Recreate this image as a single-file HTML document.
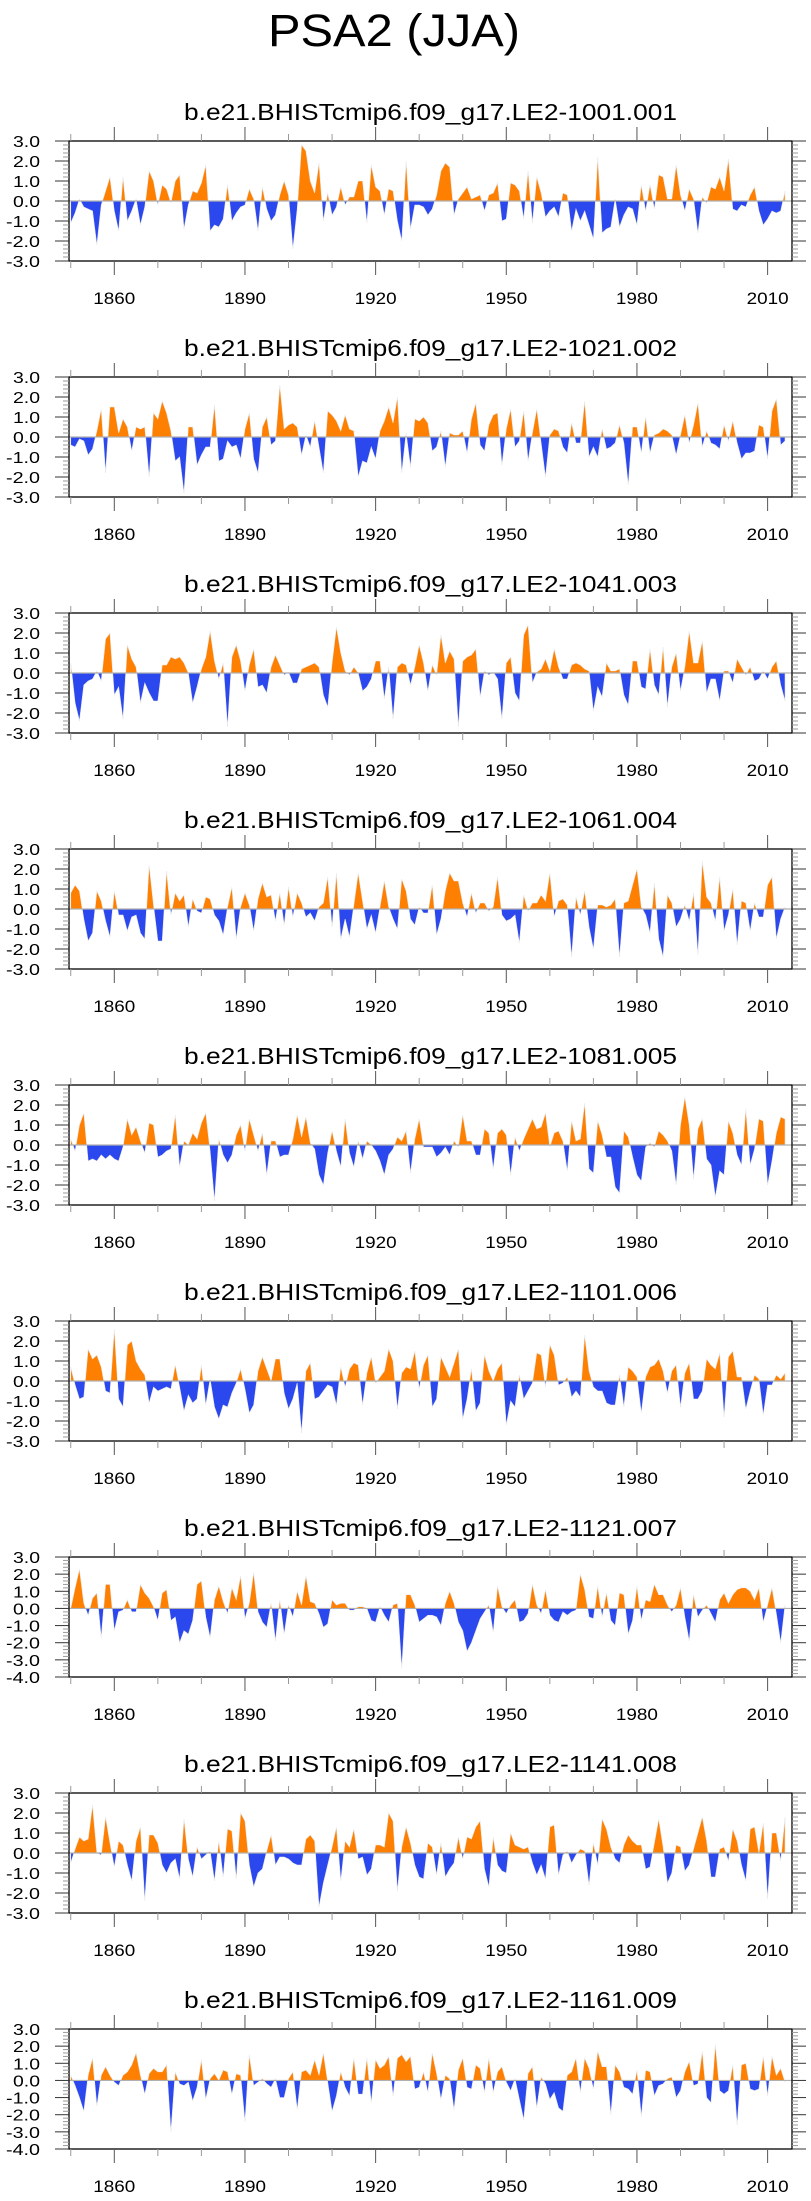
<!DOCTYPE html>
<html><head><meta charset="utf-8"><title>PSA2 (JJA)</title>
<style>html,body{margin:0;padding:0;background:#fff;}svg{display:block;font-family:"Liberation Sans",sans-serif;}</style>
</head><body>
<svg id="chart" width="811" height="2201" viewBox="0 0 811 2201" xmlns="http://www.w3.org/2000/svg">
<text x="394" y="46" font-size="45" text-anchor="middle" textLength="252" lengthAdjust="spacingAndGlyphs">PSA2 (JJA)</text>
</svg>
<script>
const startYear = 1850;
const members = ["b.e21.BHISTcmip6.f09_g17.LE2-1001.001","b.e21.BHISTcmip6.f09_g17.LE2-1021.002","b.e21.BHISTcmip6.f09_g17.LE2-1041.003","b.e21.BHISTcmip6.f09_g17.LE2-1061.004","b.e21.BHISTcmip6.f09_g17.LE2-1081.005","b.e21.BHISTcmip6.f09_g17.LE2-1101.006","b.e21.BHISTcmip6.f09_g17.LE2-1121.007","b.e21.BHISTcmip6.f09_g17.LE2-1141.008","b.e21.BHISTcmip6.f09_g17.LE2-1161.009"];
const yMins = [-3,-3,-3,-3,-3,-3,-4,-3,-4];
const yMaxs = [3,3,3,3,3,3,3,3,3];
const xTickYears = [1860,1890,1920,1950,1980,2010];
const s1 = [-1.1,-0.6,0.1,-0.3,-0.4,-0.5,-2.2,-0.2,0.5,1.2,-0.5,-1.5,1.2,-1.0,-0.5,0.1,-1.2,-0.3,1.5,1.0,-0.2,0.8,0.6,-0.1,1.0,1.3,-1.4,-0.2,0.5,0.4,0.9,1.8,-1.5,-1.2,-1.3,-0.9,0.8,-1.0,-0.6,-0.3,-0.2,0.6,0.1,-1.5,0.7,-0.4,-1.0,-0.7,0.3,1.0,0.3,-2.4,-0.4,2.8,2.5,1.0,0.4,1.9,-1.0,0.4,-0.7,-0.3,0.7,-0.2,0.2,0.2,1.0,1.0,-1.1,1.8,0.7,0.5,-0.7,0.6,0.5,-1.0,-2.0,2.0,-1.4,-0.2,-0.2,-0.3,-0.7,-0.4,0.3,1.5,1.9,1.7,-0.7,0.1,0.4,0.7,0.1,0.2,0.3,-0.5,0.3,0.4,0.9,-1.0,-0.9,0.9,0.8,0.5,-0.9,1.5,-1.1,1.2,0.4,-0.8,-0.5,-0.3,-0.8,0.4,0.3,-1.5,-0.4,-1.0,-0.5,-1.2,-1.9,2.2,-1.6,-1.4,-1.3,0.1,-1.3,-0.7,-0.3,-0.4,-1.2,0.8,-0.5,0.8,-0.4,1.3,1.2,0.1,0.1,1.8,0.3,-0.5,0.6,0.1,-1.6,0.2,-0.1,0.7,0.6,1.2,0.5,2.1,-0.4,-0.5,-0.2,-0.3,0.3,0.7,-0.5,-1.2,-0.9,-0.5,-0.6,-0.5,0.5];
const s2 = [-0.4,-0.5,-0.1,-0.2,-0.9,-0.6,0.3,1.4,-1.8,1.5,1.5,0.2,0.9,0.5,-0.7,0.5,0.4,0.5,-2.0,1.2,0.9,1.8,1.2,0.3,-1.2,-1.0,-2.8,0.5,0.5,-1.4,-0.9,-0.5,-0.5,1.6,-1.2,-1.1,-0.2,-0.5,-0.4,-1.1,0.4,1.2,-1.1,-1.8,0.5,1.0,-0.4,-0.2,2.6,0.4,0.6,0.7,0.5,-0.9,0.1,-0.5,0.8,-0.5,-1.8,1.3,1.1,0.8,0.3,1.1,0.4,0.3,-2.0,-1.2,-1.3,-0.5,-1.1,0.3,0.8,1.5,0.7,2.0,-1.8,0.2,-1.5,0.9,0.8,1.0,0.7,-0.7,-0.5,0.3,-1.5,0.2,0.1,0.1,0.3,-0.8,0.9,1.7,-0.4,-0.7,0.6,1.1,1.2,-1.4,0.4,1.4,-0.5,-0.2,1.3,-1.2,0.2,1.4,-0.3,-2.0,0.1,0.4,0.3,-0.5,-0.8,0.7,-0.3,-0.3,1.8,-1.0,-0.5,-1.0,0.4,-0.6,-0.5,-0.3,0.6,-0.3,-2.4,0.5,0.5,-0.8,1.0,-0.8,0.1,0.2,0.4,0.3,0.1,-0.9,0.1,1.1,-0.3,0.6,1.7,-0.5,0.3,-0.3,-0.4,-0.6,0.6,-0.2,0.8,-0.3,-1.1,-0.8,-0.8,-0.7,0.6,0.5,-1.1,1.3,1.9,-0.4,-0.2];
const s3 = [0.5,-1.5,-2.4,-0.6,-0.4,-0.3,0.1,-0.4,1.7,2.0,-1.1,-0.7,-2.3,1.4,0.7,0.3,-1.5,-0.5,-1.0,-1.4,-1.4,0.4,0.4,0.8,0.7,0.8,0.5,0.0,-1.5,-0.7,0.2,0.8,2.1,0.6,-0.3,0.5,-2.7,0.8,1.4,0.6,-0.9,0.4,1.2,-0.7,-0.6,-1.0,0.3,0.9,0.4,-0.1,0.05,-0.5,-0.5,0.2,0.3,0.4,0.5,0.3,-1.1,-1.7,0.5,2.3,1.0,0.1,-0.1,0.3,0.0,-0.9,-0.7,-0.3,0.6,0.6,-1.3,0.3,-2.3,0.3,0.5,0.4,-0.6,0.3,1.4,0.5,-0.9,0.4,-0.1,1.9,0.5,1.1,0.7,-2.7,0.6,0.8,0.9,1.2,-1.2,0.1,-0.1,0.05,-0.3,-2.3,0.5,0.8,-1.0,-1.4,1.9,2.4,-0.5,0.05,0.2,0.7,0.1,1.2,0.3,-0.3,-0.3,0.4,0.5,0.4,0.2,0.1,-1.9,-0.7,-1.2,0.5,0.1,0.1,0.2,-1.1,-1.6,0.6,0.6,-0.7,-0.8,1.2,-0.6,-1.1,1.3,-1.7,0.3,1.0,-0.9,0.3,2.1,0.5,0.5,1.6,-1.0,-0.3,-0.3,-1.4,0.1,0.1,-0.5,0.7,0.3,-0.1,0.3,-0.4,-0.3,0.1,-0.3,0.3,0.6,-0.6,-1.4];
const s4 = [0.8,1.2,0.9,-0.5,-1.6,-1.2,0.9,0.4,-0.6,-1.4,0.9,-0.3,-0.3,-1.1,-0.4,-0.3,-1.2,-1.5,2.2,0.2,-1.6,-1.6,1.9,-0.3,0.8,0.4,0.7,-0.9,0.5,-0.1,-0.2,0.6,0.5,-0.3,-0.6,-1.3,0.1,1.1,-1.5,0.1,0.8,0.2,-1.1,0.5,1.3,0.6,0.7,-0.6,0.8,-0.8,1.1,-0.4,0.8,0.3,-0.4,-0.2,-0.6,0.1,0.3,1.6,-0.9,1.8,-1.5,-0.5,-1.4,0.2,1.8,0.4,-1.0,-0.3,-1.2,0.1,1.4,0.1,-0.5,-1.0,1.5,0.9,-0.5,-0.8,0.1,-0.2,-0.2,1.2,-1.3,-0.5,0.9,1.8,1.4,1.4,0.3,-0.4,0.8,-0.2,0.3,0.3,-0.1,0.1,1.6,-0.3,-0.6,-0.5,-0.3,-1.7,0.7,-0.1,0.3,0.3,0.7,0.4,1.8,-0.4,0.4,0.5,0.2,-2.4,0.6,-0.3,0.9,-0.9,-2.0,0.2,0.2,0.1,0.2,0.5,-2.4,0.3,0.4,1.2,2.0,0.1,-0.3,-1.2,1.3,-1.5,-2.4,0.7,0.3,-0.9,-0.5,0.2,-0.6,0.8,-2.3,2.4,0.6,0.3,-0.6,1.6,-1.1,-0.3,1.0,-1.8,0.4,0.3,-1.1,0.3,-0.4,-0.4,1.2,1.6,-1.5,-0.5,0.1];
const s5 = [0.3,-0.3,1.0,1.6,-0.8,-0.7,-0.8,-0.5,-0.7,-0.5,-0.7,-0.8,-0.1,1.3,0.5,0.9,0.2,-0.4,1.1,1.0,-0.6,-0.5,-0.3,-0.2,1.5,-1.1,0.2,0.0,0.6,0.3,1.1,1.6,-0.3,-2.8,0.3,-0.5,-0.9,-0.5,0.5,1.0,-0.3,1.3,0.5,-0.3,0.6,-1.5,0.2,0.2,-0.6,-0.5,-0.5,0.3,1.5,0.4,1.4,0.1,-0.2,-1.5,-2.0,-0.4,0.7,-0.3,-1.1,1.3,-0.4,-1.1,0.2,-0.7,0.2,0.0,-0.3,-0.8,-1.5,-0.5,-0.2,0.4,0.2,0.7,-1.4,0.3,1.3,-0.1,-0.1,-0.1,-0.6,-0.4,-0.1,-0.5,0.2,-0.1,1.5,0.2,0.2,-0.5,-0.5,0.8,0.6,-1.2,0.6,0.8,0.5,-1.5,0.4,-0.3,0.3,0.8,1.3,0.8,0.9,1.6,-0.1,0.6,0.7,0.2,-1.3,1.2,0.2,0.3,2.1,-1.2,-1.4,1.2,0.5,-0.6,-0.6,-2.1,-2.4,0.7,0.4,-0.6,-1.5,-1.8,-0.1,0.1,-0.1,0.7,0.5,0.2,-0.3,-2.0,1.0,2.4,1.0,-1.7,0.8,1.3,-0.7,-1.0,-2.6,-1.3,-1.5,1.2,0.6,-0.5,-1.0,1.8,-1.0,-0.2,1.3,1.2,-2.0,-0.8,0.6,1.4,1.3];
const s6 = [0.7,-0.2,-0.9,-0.8,1.6,1.1,1.3,0.7,-0.5,-0.6,2.6,-0.9,-1.3,1.8,2.0,1.0,0.6,0.3,-1.1,-0.3,-0.5,-0.4,-0.3,-0.4,0.8,-0.3,-1.5,-0.7,-1.1,-0.9,0.8,-1.2,0.1,-1.3,-1.9,-1.2,-1.3,-0.6,-0.1,0.6,-0.4,-1.6,-1.2,0.5,1.2,0.6,0.0,1.1,1.1,-0.6,-1.4,-0.9,-0.1,-2.6,0.5,0.9,-0.9,-0.8,-0.5,-0.2,-0.3,-1.2,0.7,-0.3,0.6,0.9,0.8,-1.2,0.4,1.2,-0.1,0.2,0.5,1.6,1.0,-1.4,0.4,0.7,0.6,1.5,-0.4,0.8,1.3,-1.3,-0.9,1.2,0.7,0.2,0.9,1.6,-1.9,-0.9,0.6,-1.5,-1.1,1.3,0.5,0.0,0.6,0.9,-2.2,-1.0,-1.3,0.3,-0.9,-0.5,-0.1,1.4,1.3,-0.3,1.8,1.3,-0.2,-0.1,0.2,-0.8,-0.5,-0.8,2.3,0.5,-0.3,-0.5,-0.5,-1.1,-1.2,-1.2,0.3,-1.3,0.7,0.5,0.2,-1.6,0.2,0.7,0.8,1.1,0.5,-0.6,0.5,0.8,-1.3,0.4,0.9,-0.9,-0.9,-0.5,1.1,0.8,0.6,1.4,-1.8,1.2,1.5,0.2,0.2,-1.4,-0.5,0.3,0.1,-1.7,-0.2,-0.2,0.3,0.1,0.4];
const s7 = [0.0,1.2,2.3,0.3,-0.4,0.6,0.9,-1.7,1.4,1.4,-1.3,-0.2,-0.1,0.5,-0.2,-0.2,1.4,0.9,0.6,0.1,-0.7,0.9,1.1,-0.7,-0.5,-2.0,-1.3,-1.5,-0.7,1.4,1.6,-0.5,-1.7,0.5,1.3,0.4,-0.3,1.2,0.5,1.9,-0.6,0.3,2.1,-0.2,-0.8,-1.1,0.3,-1.9,0.5,-1.5,0.2,-0.5,1.0,0.2,1.9,0.4,0.3,-0.3,-1.1,-0.9,0.5,0.2,0.3,0.3,-0.1,-0.1,0.1,0.1,0.0,-0.7,-0.8,0.1,-0.4,-0.8,0.2,0.3,-3.5,0.8,0.8,0.2,-0.8,-0.6,-0.4,-0.4,-0.5,-1.0,0.3,1.0,0.3,-0.8,-1.3,-2.5,-2.0,-1.3,-0.6,-0.2,0.2,-1.4,1.3,0.1,-0.3,0.2,0.5,-0.8,-0.7,-0.3,1.4,0.2,-0.3,1.1,-0.4,-0.7,-0.8,-0.2,-0.4,-0.2,-0.1,2.0,1.1,-0.5,-0.6,1.3,-0.5,0.9,-0.7,-1.0,0.9,0.8,-1.5,-0.7,1.3,-0.7,0.5,0.4,1.4,0.8,0.8,0.2,-0.2,0.2,1.2,-0.5,-1.9,0.8,-0.5,-0.1,0.2,-0.3,-0.8,0.5,0.9,0.3,0.8,1.1,1.2,1.2,1.0,0.5,1.2,-0.8,0.2,1.2,-0.3,-2.0,0.2];
const s8 = [-0.5,0.2,0.8,0.6,0.7,2.4,0.0,-0.1,1.8,0.5,-0.7,0.6,0.4,-0.6,-1.4,0.6,1.3,-2.4,0.9,0.9,0.5,-0.6,-1.0,-0.5,-0.3,-1.3,1.7,-0.3,-1.2,0.3,-0.3,-0.1,0.1,-1.4,0.6,-1.2,1.2,1.1,-1.3,2.0,1.6,-0.6,-1.7,-1.0,-0.8,0.1,0.9,-0.6,-0.2,-0.2,-0.3,-0.5,-0.6,-0.6,0.7,0.9,0.6,-2.7,-1.5,-0.6,0.3,1.3,-1.4,0.6,0.3,1.2,-0.3,-0.2,-1.1,-0.8,0.4,0.4,0.3,2.0,1.6,-1.9,0.3,1.3,0.5,-0.6,-1.2,-1.3,0.5,0.3,-1.1,0.5,-1.2,-0.8,-0.5,0.8,-0.3,0.8,0.7,1.3,1.6,-0.8,-1.7,0.8,-0.6,-0.9,-1.0,1.0,0.4,0.3,0.2,0.3,-0.5,-1.1,-0.6,-1.3,1.3,1.4,-1.1,-0.1,0.1,-0.5,-0.1,0.2,0.1,-1.6,0.5,-0.6,1.7,1.2,0.3,-0.3,-0.5,0.4,0.9,0.6,0.4,0.4,-0.8,-0.7,0.5,1.7,0.3,-1.5,-1.0,0.4,0.3,-0.9,-0.6,0.2,1.0,1.8,0.6,-1.2,-1.2,0.2,0.3,-0.4,1.2,0.6,-0.6,-1.4,1.2,1.3,0.0,1.5,-2.3,1.0,1.0,-0.4,1.8];
const s9 = [0.3,-0.3,-1.0,-1.8,0.3,1.3,-1.5,0.3,0.8,0.3,-0.1,-0.3,0.3,0.5,0.9,1.6,0.3,-0.8,0.4,0.7,0.5,0.5,0.9,-3.0,0.5,-0.2,-0.3,-0.1,-1.2,-0.4,1.2,-1.1,0.1,0.4,0.0,0.6,0.5,-0.8,0.4,0.3,-2.4,1.5,-0.3,-0.1,0.1,-0.2,-0.4,0.1,-1.0,-1.0,0.1,0.5,-1.7,0.5,0.6,0.3,1.2,0.3,1.6,-0.1,-1.8,-0.9,0.5,-0.4,-0.9,1.3,-0.8,-0.8,1.3,-1.3,1.2,0.7,0.9,1.4,-0.9,1.3,1.5,1.1,1.4,-0.5,-0.4,0.5,-0.7,1.6,0.4,-1.1,0.3,0.1,-1.7,0.6,1.3,-0.4,-0.5,0.9,0.7,-0.7,1.3,-0.7,0.5,0.8,-0.1,-0.6,0.1,-1.1,-2.3,0.4,0.8,-1.6,0.2,-0.2,-1.1,-0.7,-1.6,-1.8,0.3,0.5,1.3,-0.7,1.3,0.7,-0.5,1.7,0.8,0.8,-2.0,0.9,0.5,-0.4,-0.5,-0.8,0.6,-2.1,0.6,0.5,-0.9,-0.3,-0.2,0.1,0.2,-1.0,-0.6,0.5,1.1,-0.3,-0.2,1.7,-1.0,-1.3,2.1,-0.6,-0.8,-0.6,0.9,-2.6,0.9,1.0,-0.5,-0.6,-0.5,1.4,-0.9,1.4,0.3,0.7,-0.1];
const series = [s1,s2,s3,s4,s5,s6,s7,s8,s9];

const NS = "http://www.w3.org/2000/svg";
const svg = document.getElementById("chart");
const PL = 69, PR = 792, PH = 120, TOP0 = 141, STEP = 236;
const XMIN = 1849.6, XMAX = 2015.6;
function xScale(yr){ return PL + (yr - XMIN) / (XMAX - XMIN) * (PR - PL); }
function mk(tag, attrs, parent){ const e = document.createElementNS(NS, tag); for (const k in attrs) e.setAttribute(k, attrs[k]); (parent||svg).appendChild(e); return e; }

series.forEach((vals, p) => {
  const top = TOP0 + STEP * p, bot = top + PH;
  const ymin = yMins[p], ymax = yMaxs[p];
  const yScale = v => top + (ymax - v) / (ymax - ymin) * PH;
  const g = mk("g", {});
  
  
  const st = mk("text", {x: (PL + PR) / 2, y: top - 21, "font-size": 23, "text-anchor": "middle", textLength: 493, lengthAdjust: "spacingAndGlyphs"}, g);
  st.textContent = members[p];
  
  
  const y0 = yScale(0);
  let d = "M" + xScale(startYear).toFixed(2) + "," + y0.toFixed(2);
  vals.forEach((v, i) => { d += " L" + xScale(startYear + i).toFixed(2) + "," + yScale(v).toFixed(2); });
  d += " L" + xScale(startYear + vals.length - 1).toFixed(2) + "," + y0.toFixed(2) + " Z";
  const cpA = mk("clipPath", {id: "ca" + p}, g); mk("rect", {x: PL, y: top, width: PR - PL, height: y0 - top}, cpA);
  const cpB = mk("clipPath", {id: "cb" + p}, g); mk("rect", {x: PL, y: y0, width: PR - PL, height: bot - y0}, cpB);
  const pa = mk("path", {d: d, fill: "#ff8000", stroke: "#e8e8e8", "stroke-width": 0.6, "clip-path": "url(#ca" + p + ")"}, g);
  
  
  const pb = mk("path", {d: d, fill: "#2b48ee", stroke: "#e8e8e8", "stroke-width": 0.6, "clip-path": "url(#cb" + p + ")"}, g);
  
  
  const zl = mk("line", {x1: PL, x2: PR, y1: y0, y2: y0, stroke: "#b0b0b0", "stroke-width": 1.2}, g);
  
  
  const fr = mk("rect", {x: PL, y: top, width: PR - PL, height: PH, fill: "none", stroke: "#000", "stroke-width": 1.3}, g);
  
  
  // x ticks
  for (let yr = 1850; yr <= 2010; yr += 10) {
    const major = xTickYears.includes(yr);
    const x = xScale(yr), len = major ? 14 : 7, col = major ? "#555" : "#999";
    mk("line", {x1: x, x2: x, y1: top, y2: top - len, stroke: col, "stroke-width": 1}, g);
    mk("line", {x1: x, x2: x, y1: bot, y2: bot + len, stroke: col, "stroke-width": 1}, g);
  }
  xTickYears.forEach(yr => {
    const t = mk("text", {x: xScale(yr), y: bot + 43, "font-size": 17, "text-anchor": "middle", textLength: 42, lengthAdjust: "spacingAndGlyphs"}, g);
    t.textContent = String(yr);
    
    
  });
  // y ticks
  for (let k = ymin * 5; k <= ymax * 5; k++) {
    const v = k / 5, y = yScale(v), major = (k % 5 === 0), len = major ? 14 : 6, col = major ? "#333" : "#999";
    mk("line", {x1: PL, x2: PL - len, y1: y, y2: y, stroke: col, "stroke-width": 1}, g);
    mk("line", {x1: PR, x2: PR + len, y1: y, y2: y, stroke: col, "stroke-width": 1}, g);
    if (major) {
      const lab = v.toFixed(1);
      const t = mk("text", {x: 40, y: y + 6, "font-size": 16, "text-anchor": "end", textLength: lab.length === 4 ? 34 : 27, lengthAdjust: "spacingAndGlyphs"}, g);
      t.textContent = lab;
      
      
    }
  }
});
</script>
</body></html>
